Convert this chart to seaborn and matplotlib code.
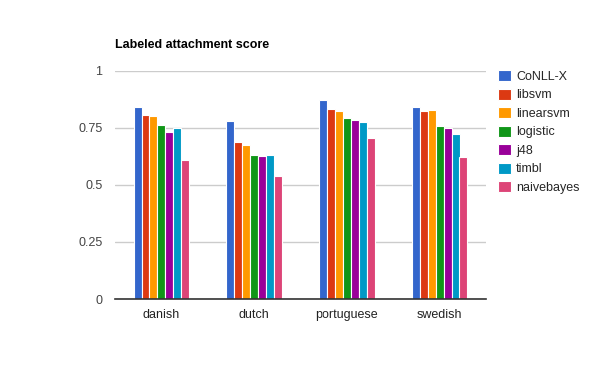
import pandas as pd
import matplotlib.pyplot as plt
import seaborn as sns

languages = ['danish', 'dutch', 'portuguese', 'swedish']
systems = ['CoNLL-X', 'libsvm', 'linearsvm', 'logistic', 'j48', 'timbl', 'naivebayes']
colors = ['#3366cc', '#dc3912', '#ff9900', '#109618', '#990099', '#0099c6', '#dd4477']

# scores per system, in the order of languages
conllx = [0.843, 0.782, 0.874, 0.843]
libsvm = [0.808, 0.690, 0.835, 0.826]
linearsvm = [0.804, 0.677, 0.826, 0.830]
logistic = [0.765, 0.633, 0.795, 0.760]
j48 = [0.734, 0.629, 0.786, 0.752]
timbl = [0.752, 0.633, 0.777, 0.725]
naivebayes = [0.611, 0.541, 0.707, 0.624]

scores = [conllx, libsvm, linearsvm, logistic, j48, timbl, naivebayes]

rows = []
for system, vals in zip(systems, scores):
    for lang, v in zip(languages, vals):
        rows.append({'language': lang, 'system': system, 'score': v})
df = pd.DataFrame(rows)

sns.set_theme(style='white')
plt.rcParams['font.family'] = ['Liberation Sans', 'DejaVu Sans']

fig = plt.figure(figsize=(6, 3.71), dpi=100)
ax = fig.add_axes([115 / 600, 1 - 299 / 371, 371 / 600, 228 / 371])

sns.barplot(data=df, x='language', y='score', hue='system', hue_order=systems,
            palette=colors, width=0.6, saturation=1, edgecolor='white',
            linewidth=0.8, ax=ax)

ax.set_ylim(0, 1)
ax.set_yticks([0, 0.25, 0.5, 0.75, 1])
ax.set_yticklabels(['0', '0.25', '0.5', '0.75', '1'])
ax.yaxis.grid(True, color='#cccccc', linewidth=1)
ax.set_axisbelow(True)
for side in ['top', 'right', 'left']:
    ax.spines[side].set_visible(False)
ax.spines['bottom'].set_color('#333333')
ax.spines['bottom'].set_linewidth(1.2)
ax.tick_params(axis='both', length=0, labelsize=9, colors='#222222')
ax.tick_params(axis='x', pad=7)
ax.tick_params(axis='y', pad=9, labelcolor='#444444')
ax.set_xlabel('')
ax.set_ylabel('')

fig.text(115 / 600, 1 - 45 / 371, 'Labeled attachment score', fontsize=9,
         fontweight='bold', va='center', ha='left', color='#000000')

handles, labels = ax.get_legend_handles_labels()
ax.legend(handles, labels, loc='upper left', bbox_to_anchor=(498 / 600, 1 - 70 / 371),
          bbox_transform=fig.transFigure, frameon=False, fontsize=9,
          borderpad=0, borderaxespad=0,
          handlelength=1.0, handleheight=1.0, handletextpad=0.45, labelspacing=0.45)

fig.savefig('out.png', dpi=100)
